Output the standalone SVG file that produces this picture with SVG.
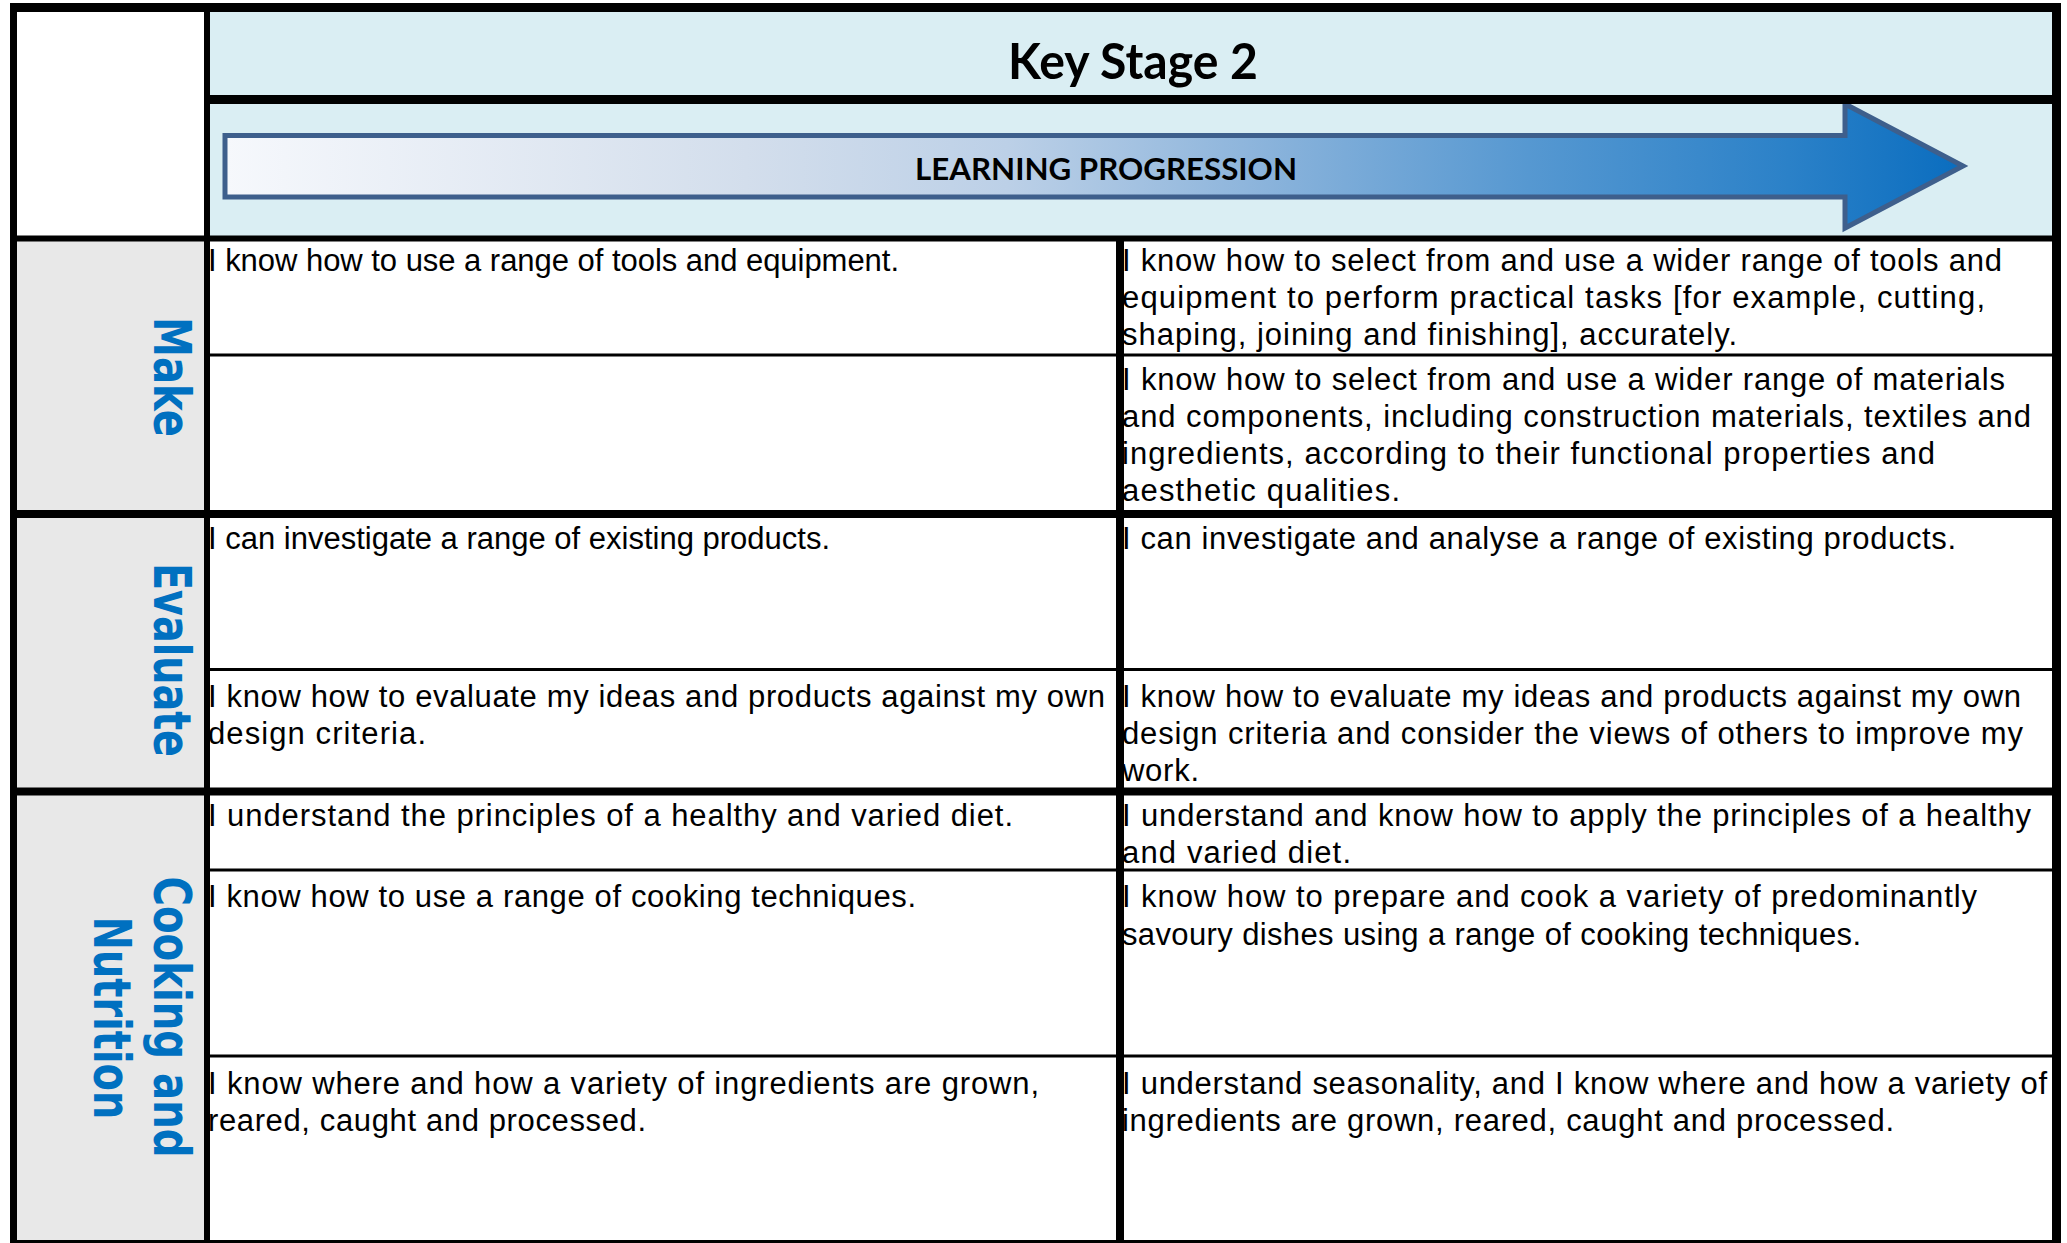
<svg xmlns="http://www.w3.org/2000/svg" width="2067" height="1243" viewBox="0 0 2067 1243">
<style>
.b{font-family:"Liberation Sans",Arial,sans-serif;font-size:31px;fill:#000;}
.lbl{font-family:"DejaVu Sans",Verdana,sans-serif;font-weight:bold;font-size:51px;fill:#0070C0;text-anchor:middle;}
.hd{font-family:Lato,"Liberation Sans",sans-serif;font-weight:bold;fill:#000;}
.g{stroke:#000;fill:none;}
.thick{stroke-width:8;}
.thin{stroke-width:3;}
</style>
<defs>
<linearGradient id="ag" gradientUnits="userSpaceOnUse" x1="225" y1="0" x2="1963" y2="0">
<stop offset="0" stop-color="#F6F8FC"/>
<stop offset="0.3" stop-color="#D3DEEC"/>
<stop offset="0.45" stop-color="#BCD0E7"/>
<stop offset="0.6" stop-color="#8AB3DB"/>
<stop offset="0.75" stop-color="#5698D1"/>
<stop offset="0.9" stop-color="#2B81C8"/>
<stop offset="1" stop-color="#0A6DBF"/>
</linearGradient>
</defs>
<rect x="0" y="0" width="2067" height="1243" fill="#fff"/>
<g id="header">
<rect x="207" y="7" width="1850" height="232" fill="#DAEEF3"/>
<text class="hd" x="1008" y="79" font-size="50" textLength="250" lengthAdjust="spacingAndGlyphs">Key Stage 2</text>
<path d="M225,135.5 L1845,135.5 L1845,104 L1963,166 L1845,228 L1845,197 L225,197 Z" fill="url(#ag)" stroke="#3E5F8C" stroke-width="5" stroke-linejoin="miter"/>
<text class="hd" x="915" y="180" font-size="30" textLength="382" lengthAdjust="spacingAndGlyphs">LEARNING PROGRESSION</text>
</g>
<g id="labels">
<rect x="13" y="239" width="194" height="1004" fill="#E8E8E8"/>
<g id="label-make"><text class="lbl" transform="translate(154,377) rotate(90)" textLength="120" lengthAdjust="spacingAndGlyphs">Make</text></g>
<g id="label-evaluate"><text class="lbl" transform="translate(154,660) rotate(90)" textLength="194" lengthAdjust="spacingAndGlyphs">Evaluate</text></g>
<g id="label-cooking"><text class="lbl" transform="translate(154,1017) rotate(90)" textLength="281" lengthAdjust="spacingAndGlyphs">Cooking and</text>
<text class="lbl" transform="translate(94,1018) rotate(90)" textLength="203" lengthAdjust="spacingAndGlyphs">Nutrition</text></g>
</g>
<g id="cells-left">
<text class="b" x="208" y="271" textLength="691">I know how to use a range of tools and equipment.</text>
<text class="b" x="208" y="549" textLength="622">I can investigate a range of existing products.</text>
<text class="b" x="208" y="707" textLength="897">I know how to evaluate my ideas and products against my own</text>
<text class="b" x="208" y="744" textLength="218">design criteria.</text>
<text class="b" x="208" y="826" textLength="805">I understand the principles of a healthy and varied diet.</text>
<text class="b" x="208" y="907" textLength="708">I know how to use a range of cooking techniques.</text>
<text class="b" x="208" y="1094" textLength="831">I know where and how a variety of ingredients are grown,</text>
<text class="b" x="208" y="1131" textLength="438">reared, caught and processed.</text>
</g>
<g id="cells-right">
<text class="b" x="1122" y="271" textLength="880">I know how to select from and use a wider range of tools and</text>
<text class="b" x="1122" y="308" textLength="863">equipment to perform practical tasks [for example, cutting,</text>
<text class="b" x="1122" y="345" textLength="615">shaping, joining and finishing], accurately.</text>
<text class="b" x="1122" y="390" textLength="883">I know how to select from and use a wider range of materials</text>
<text class="b" x="1122" y="427" textLength="909">and components, including construction materials, textiles and</text>
<text class="b" x="1122" y="464" textLength="813">ingredients, according to their functional properties and</text>
<text class="b" x="1122" y="501" textLength="278">aesthetic qualities.</text>
<text class="b" x="1122" y="549" textLength="834">I can investigate and analyse a range of existing products.</text>
<text class="b" x="1122" y="707" textLength="899">I know how to evaluate my ideas and products against my own</text>
<text class="b" x="1122" y="744" textLength="901">design criteria and consider the views of others to improve my</text>
<text class="b" x="1122" y="781" textLength="77">work.</text>
<text class="b" x="1122" y="826" textLength="909">I understand and know how to apply the principles of a healthy</text>
<text class="b" x="1122" y="863" textLength="229">and varied diet.</text>
<text class="b" x="1122" y="907" textLength="855">I know how to prepare and cook a variety of predominantly</text>
<text class="b" x="1122" y="945" textLength="739">savoury dishes using a range of cooking techniques.</text>
<text class="b" x="1122" y="1094" textLength="925">I understand seasonality, and I know where and how a variety of</text>
<text class="b" x="1122" y="1131" textLength="772">ingredients are grown, reared, caught and processed.</text>
</g>
<g id="grid" class="g">
<line x1="207" y1="355" x2="2057" y2="355" class="thin"/>
<line x1="207" y1="669.5" x2="2057" y2="669.5" class="thin"/>
<line x1="207" y1="870" x2="2057" y2="870" class="thin"/>
<line x1="207" y1="1056" x2="2057" y2="1056" class="thin"/>
<line x1="1120" y1="238" x2="1120" y2="1243" class="thick"/>
<line x1="207" y1="99.5" x2="2061" y2="99.5" stroke-width="9"/>
<line x1="10" y1="238.5" x2="2061" y2="238.5" stroke-width="6"/>
<line x1="10" y1="514" x2="2061" y2="514" class="thick"/>
<line x1="10" y1="791.5" x2="2061" y2="791.5" class="thick"/>
<line x1="10" y1="1241.5" x2="2061" y2="1241.5" class="thin"/>
<line x1="207" y1="7" x2="207" y2="1243" stroke-width="6"/>
<line x1="13.5" y1="3" x2="13.5" y2="1243" stroke-width="7"/>
<line x1="2056.5" y1="3" x2="2056.5" y2="1243" stroke-width="9"/>
<line x1="10" y1="7.5" x2="2061" y2="7.5" stroke-width="9"/>
</g>
</svg>
